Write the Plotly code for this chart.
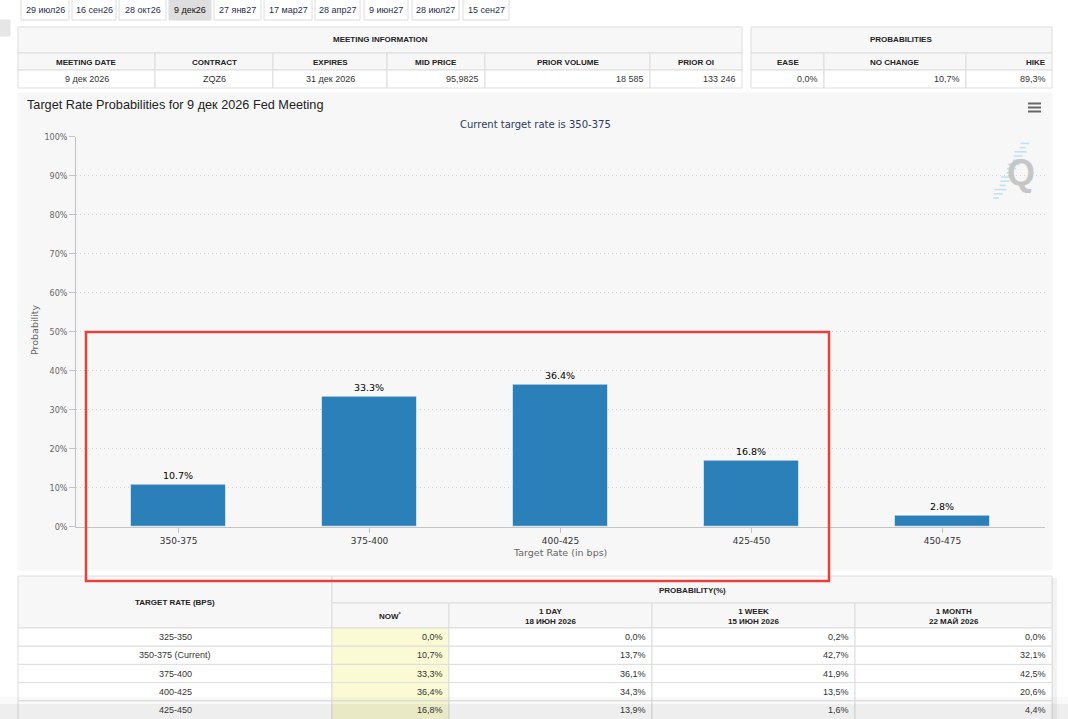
import plotly.graph_objects as go

W, H = 1068, 719

# ---------------- data ----------------
tabs = ["29 июл26", "16 сен26", "28 окт26", "9 дек26", "27 янв27",
        "17 мар27", "28 апр27", "9 июн27", "28 июл27", "15 сен27"]
active_tab = "9 дек26"

meeting_cols = ["MEETING DATE", "CONTRACT", "EXPIRES", "MID PRICE", "PRIOR VOLUME", "PRIOR OI"]
meeting_vals = ["9 дек 2026", "ZQZ6", "31 дек 2026", "95,9825", "18 585", "133 246"]
prob_cols = ["EASE", "NO CHANGE", "HIKE"]
prob_vals = ["0,0%", "10,7%", "89,3%"]

categories = ["350-375", "375-400", "400-425", "425-450", "450-475"]
probabilities = [10.7, 33.3, 36.4, 16.8, 2.8]

rate_rows = ["325-350", "350-375 (Current)", "375-400", "400-425", "425-450"]
now_vals = [0.0, 10.7, 33.3, 36.4, 16.8]
day_vals = [0.0, 13.7, 36.1, 34.3, 13.9]
week_vals = [0.2, 42.7, 41.9, 13.5, 1.6]
month_vals = [0.0, 32.1, 42.5, 20.6, 4.4]

# ---------------- helpers ----------------
def px(x):
    return x / W

def py(y):
    return 1 - y / H

shapes = []
annos = []

def rect(x0, y0, x1, y1, fill="rgba(0,0,0,0)", line="#dddddd", lw=1, layer="below"):
    shapes.append(dict(type="rect", xref="paper", yref="paper",
                       x0=px(x0), x1=px(x1), y0=py(y1), y1=py(y0),
                       fillcolor=fill, line=dict(color=line, width=lw), layer=layer))

def line(x0, y0, x1, y1, color, lw=1, layer="above", dash=None):
    d = dict(color=color, width=lw)
    if dash:
        d["dash"] = dash
    shapes.append(dict(type="line", xref="paper", yref="paper",
                       x0=px(x0), x1=px(x1), y0=py(y0), y1=py(y1),
                       line=d, layer=layer))

def text(x, y, s, size=9, color="#333333", anchor="center", bold=False,
         family="Liberation Sans", angle=0):
    if bold:
        s = "<b>" + s + "</b>"
    annos.append(dict(xref="paper", yref="paper", x=px(x), y=py(y), text=s,
                      showarrow=False, xanchor=anchor, yanchor="middle",
                      textangle=angle,
                      font=dict(size=size, color=color, family=family)))

def fmt(v):
    return f"{v:.1f}".replace(".", ",") + "%"

# ---------------- tabs ----------------
tab_edges = [(21, 69), (72, 116), (119, 166), (169, 211), (214, 261),
             (264, 312), (315, 360), (364, 408), (412, 459), (463, 509)]
for (a, b), t in zip(tab_edges, tabs):
    fill = "#dedede" if t == active_tab else "#ffffff"
    rect(a, -4, b, 20, fill=fill, line="#dcdcdc")
    text((a + b) / 2, 10, t, size=9, color="#1f2d4d" if t != active_tab else "#111111")

rect(0, 20, 10, 36, fill="#e6e6e6", line="#e6e6e6")

# ---------------- meeting information table ----------------
mx = [18, 155, 273, 387, 485, 650, 742]
rect(18, 27, 742, 53, fill="#f7f7f7")
text(380, 40, "MEETING INFORMATION", size=8, bold=True, color="#222222")
for i, c in enumerate(meeting_cols):
    rect(mx[i], 53, mx[i + 1], 70, fill="#f7f7f7")
    rect(mx[i], 70, mx[i + 1], 88, fill="#ffffff")
    text((mx[i] + mx[i + 1]) / 2, 62, c, size=8, bold=True, color="#222222")
    if i < 3:
        text((mx[i] + mx[i + 1]) / 2, 79.5, meeting_vals[i], size=9)
    else:
        text(mx[i + 1] - 4, 79.5, meeting_vals[i], size=9, anchor="right")

# ---------------- probabilities table ----------------
pxs = [751, 824, 966, 1052]
head_x = [788, 895, 1036]
rect(751, 27, 1052, 53, fill="#f7f7f7")
text(901, 40, "PROBABILITIES", size=8, bold=True, color="#222222")
for i, c in enumerate(prob_cols):
    rect(pxs[i], 53, pxs[i + 1], 70, fill="#f7f7f7")
    rect(pxs[i], 70, pxs[i + 1], 88, fill="#ffffff")
    text(head_x[i], 62, c, size=8, bold=True, color="#222222")
    text(pxs[i + 1] - 4, 79.5, prob_vals[i], size=9, anchor="right")

# ---------------- chart panel ----------------
rect(18, 93, 1052, 570, fill="#f7f7f7", line="#f7f7f7")
text(25, 105, "Target Rate Probabilities for 9 дек 2026 Fed Meeting", size=12.7,
     color="#222222", anchor="left")
text(535, 124, "Current target rate is 350-375", size=10, color="#2b3a5e",
     family="DejaVu Sans")
text(560, 552, "Target Rate (in bps)", size=9.5, color="#666666", family="DejaVu Sans")
text(35, 330, "Probability", size=9.5, color="#666666", family="DejaVu Sans", angle=-90)

# menu icon
for yy in (103.5, 107.5, 111.5):
    line(1028, yy, 1041, yy, "#666666", lw=2)

# Q logo with stripes
for k in range(14):
    yy = 198 - k * 4.2
    xc = 996 + (198 - yy) * 0.53
    ln = 6 + (k % 3) * 3
    line(xc - ln / 2, yy, xc + ln / 2, yy, "rgba(120,200,240,0.45)", lw=1.5)
text(1021, 172, "Q", size=36, bold=True, color="#c6c6c6", family="Liberation Sans")

# ---------------- probability (bottom) table ----------------
rect(18, 576, 332, 628, fill="#f7f7f7")
text(175, 602, "TARGET RATE (BPS)", size=8, bold=True, color="#222222")
rect(332, 576, 1052, 603, fill="#f7f7f7")
text(692, 590, "PROBABILITY(%)", size=8, bold=True, color="#222222")
bx = [332, 449, 652, 855, 1052]
heads = ["NOW<sup>*</sup>", "1 DAY<br>18 ИЮН 2026", "1 WEEK<br>15 ИЮН 2026", "1 MONTH<br>22 МАЙ 2026"]
for i, hd in enumerate(heads):
    rect(bx[i], 603, bx[i + 1], 628, fill="#f7f7f7")
    text((bx[i] + bx[i + 1]) / 2, 616, hd, size=8, bold=True, color="#222222")

row_y = [628, 646.2, 664.4, 682.6, 700.8, 722]
cols_vals = [now_vals, day_vals, week_vals, month_vals]
for r, lab in enumerate(rate_rows):
    y0, y1 = row_y[r], row_y[r + 1]
    last = r == len(rate_rows) - 1
    yc = (y0 + y1) / 2 if not last else 710
    rect(18, y0, 332, y1, fill="#ffffff")
    text(175, yc, lab, size=9)
    for c, vals in enumerate(cols_vals):
        fill = "#fafad4" if c == 0 else "#ffffff"
        rect(bx[c], y0, bx[c + 1], y1, fill=fill)
        text(bx[c + 1] - 4, yc, fmt(vals[r]), size=9, anchor="right")

# right shadow of bottom table
rect(1052, 578, 1057, 722, fill="rgba(0,0,0,0.05)", line="rgba(0,0,0,0)", lw=0)

# bottom page shading (browser edge)
rect(-2, 697, 1070, 704, fill="rgba(0,0,0,0.025)", line="rgba(0,0,0,0)", lw=0, layer="above")
rect(-2, 704, 1070, 722, fill="rgba(0,0,0,0.065)", line="rgba(0,0,0,0)", lw=0, layer="above")

# ---------------- red highlight ----------------
shapes.append(dict(type="rect", xref="paper", yref="paper",
                   x0=px(86), x1=px(829), y0=py(581), y1=py(332),
                   line=dict(color="#e8403a", width=2.5), fillcolor="rgba(0,0,0,0)",
                   layer="above"))

# ---------------- bar chart ----------------
fig = go.Figure()
fig.add_trace(go.Bar(
    x=categories, y=probabilities,
    marker=dict(color="#2c80ba", line=dict(color="rgba(255,255,255,0.55)", width=1)),
    width=0.5,
    text=[f"{v:.1f}%" for v in probabilities],
    textposition="outside",
    textfont=dict(size=9.5, color="#000000", family="DejaVu Sans"),
    cliponaxis=False,
    hoverinfo="skip",
))

fig.update_layout(
    width=W, height=H,
    margin=dict(l=0, r=0, t=0, b=0),
    paper_bgcolor="#ffffff",
    plot_bgcolor="rgba(0,0,0,0)",
    showlegend=False,
    shapes=shapes,
    annotations=annos,
    bargap=0,
    xaxis=dict(
        domain=[px(76), px(1045)],
        type="category",
        range=[-0.537, 4.537],
        showline=True, linecolor="#c4c4c4", linewidth=1,
        ticks="outside", ticklen=5, tickcolor="#c4c4c4",
        tickfont=dict(size=9, color="#333333", family="DejaVu Sans"),
        showgrid=False, fixedrange=True, automargin=False,
    ),
    yaxis=dict(
        domain=[py(526.7), py(136.7)],
        range=[0, 100], dtick=10, ticksuffix="%",
        showline=True, linecolor="#c0c0c0", linewidth=1,
        ticks="outside", ticklen=6, tickcolor="#c4c4c4",
        tickfont=dict(size=8, color="#666666", family="DejaVu Sans"),
        showgrid=True, gridcolor="#d2d2d2", griddash="1px,3px", gridwidth=1,
        zeroline=False, fixedrange=True, automargin=False,
    ),
)

fig.write_html("out.html", config={"displayModeBar": False})
